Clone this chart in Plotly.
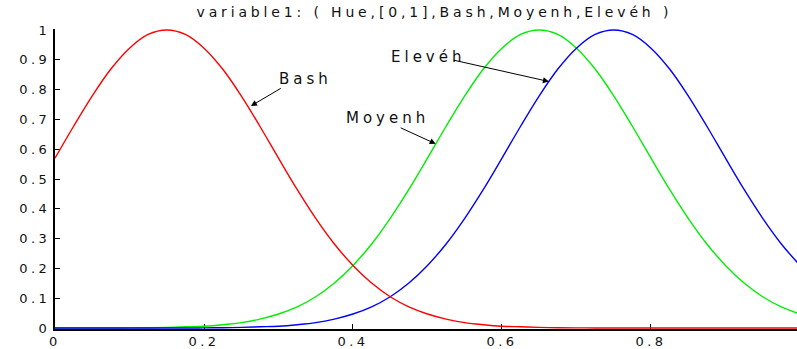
import plotly.graph_objects as go

# Membership degrees of the three fuzzy sets of variable1 (Hue) on [0, 1]
hue = [round(i * 0.025, 3) for i in range(41)]

bash = [0.570, 0.677, 0.779, 0.869, 0.939, 0.985, 1.000, 0.985, 0.939, 0.869,
        0.779, 0.677, 0.570, 0.465, 0.368, 0.282, 0.210, 0.151, 0.105, 0.071,
        0.047, 0.030, 0.018, 0.011, 0.006, 0.004, 0.002, 0.001, 0.0005, 0.0003,
        0.0, 0.0, 0.0, 0.0, 0.0, 0.0, 0.0, 0.0, 0.0, 0.0, 0.0]

moyenh = [0.0, 0.0, 0.0, 0.0, 0.0005, 0.001, 0.002, 0.004, 0.006, 0.011,
          0.018, 0.030, 0.047, 0.071, 0.105, 0.151, 0.210, 0.282, 0.368, 0.465,
          0.570, 0.677, 0.779, 0.869, 0.939, 0.985, 1.000, 0.985, 0.939, 0.869,
          0.779, 0.677, 0.570, 0.465, 0.368, 0.282, 0.210, 0.151, 0.105, 0.071,
          0.047]

eleveh = [0.0, 0.0, 0.0, 0.0, 0.0, 0.0, 0.0, 0.0, 0.0005, 0.001,
          0.002, 0.004, 0.006, 0.011, 0.018, 0.030, 0.047, 0.071, 0.105, 0.151,
          0.210, 0.282, 0.368, 0.465, 0.570, 0.677, 0.779, 0.869, 0.939, 0.985,
          1.000, 0.985, 0.939, 0.869, 0.779, 0.677, 0.570, 0.465, 0.368, 0.282,
          0.210]

x_ticks = [0, 0.2, 0.4, 0.6, 0.8]
y_ticks = [0, 0.1, 0.2, 0.3, 0.4, 0.5, 0.6, 0.7, 0.8, 0.9, 1]

FONT = "DejaVu Sans"
INK = "#111111"

fig = go.Figure()
for name, vals, col in [("Moyenh", moyenh, "#00ee00"),
                        ("Elevéh", eleveh, "#0000ff"),
                        ("Bash", bash, "#ff0000")]:
    fig.add_trace(go.Scatter(x=hue, y=vals, mode="lines", name=name,
                             line=dict(color=col, width=1.4, shape="spline"),
                             showlegend=False, hoverinfo="skip"))

# label text and arrow (tail -> head) for each set
labels = [
    ("Bash", 0.336, 0.837, 0.305, 0.807, 0.263, 0.745),
    ("Elevéh", 0.501, 0.910, 0.533, 0.900, 0.663, 0.827),
    ("Moyenh", 0.446, 0.704, 0.462, 0.674, 0.511, 0.618),
]
for txt, tx, ty, ax, ay, hx, hy in labels:
    fig.add_annotation(x=tx, y=ty, text=txt, showarrow=False,
                       font=dict(family=FONT, size=15, color=INK))
    fig.add_annotation(x=hx, y=hy, ax=ax, ay=ay, axref="x", ayref="y",
                       text="", showarrow=True, arrowhead=2, arrowsize=1.2,
                       arrowwidth=1, arrowcolor="black", standoff=0)

fig.update_layout(
    width=797, height=349,
    margin=dict(l=55, r=0, t=29, b=17),
    paper_bgcolor="white", plot_bgcolor="white",
    title=dict(text="variable1: ( Hue,[0,1],Bash,Moyenh,Elevéh )",
               x=0.545, xanchor="center", y=0.966, yanchor="middle",
               font=dict(family=FONT, size=14, color=INK)),
    font=dict(family=FONT, size=13, color=INK),
)
fig.update_xaxes(range=[0, 0.996], tickvals=x_ticks,
                 ticktext=[str(v) for v in x_ticks],
                 ticks="inside", ticklen=5, tickcolor="black",
                 showline=True, linecolor="black", linewidth=1.5,
                 showgrid=False, zeroline=False, layer="below traces")
fig.update_yaxes(range=[-0.0033, 1.0033], tickvals=y_ticks,
                 ticktext=[str(v) for v in y_ticks],
                 ticks="inside", ticklen=5, tickcolor="black",
                 showline=True, linecolor="black", linewidth=2,
                 showgrid=False, zeroline=False, layer="below traces")

# wide, letter-spaced lettering for every text element of the figure
spacing_js = """
var gd = document.getElementById('{plot_id}');
gd.querySelectorAll('text').forEach(function (t) {
    var s = '3.5px';
    if (t.classList.contains('annotation-text')) { s = '4px'; }
    if (t.classList.contains('gtitle')) { s = '3.85px'; }
    t.style.letterSpacing = s;
});
"""

fig.write_html("out.html", post_script=spacing_js)
